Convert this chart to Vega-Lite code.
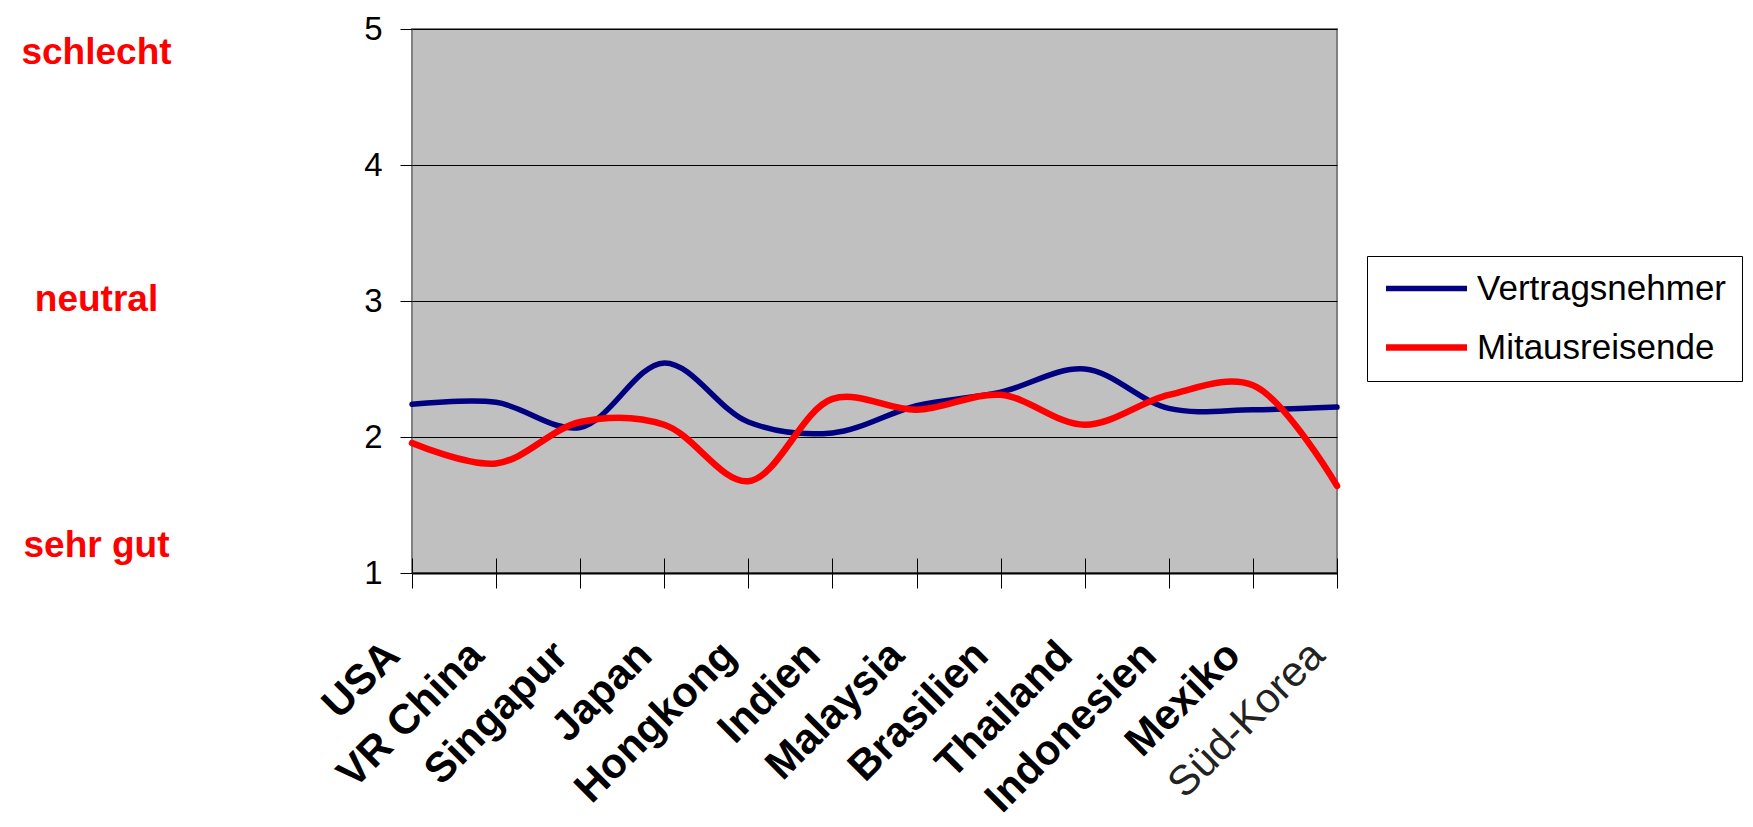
{
  "$schema": "https://vega.github.io/schema/vega-lite/v6.json",
  "width": 925,
  "height": 544,
  "autosize": "none",
  "padding": {"left": 412, "top": 29, "right": 416, "bottom": 254},
  "background": "white",
  "config": {
    "font": "Liberation Sans",
    "view": {"fill": "#C0C0C0", "stroke": "#808080", "strokeWidth": 2}
  },
  "datasets": {
    "series": [
      {"country": "USA", "group": "Vertragsnehmer", "score": 2.24},
      {"country": "USA", "group": "Mitausreisende", "score": 1.955},
      {"country": "VR China", "group": "Vertragsnehmer", "score": 2.255},
      {"country": "VR China", "group": "Mitausreisende", "score": 1.805},
      {"country": "Singapur", "group": "Vertragsnehmer", "score": 2.07},
      {"country": "Singapur", "group": "Mitausreisende", "score": 2.11},
      {"country": "Japan", "group": "Vertragsnehmer", "score": 2.545},
      {"country": "Japan", "group": "Mitausreisende", "score": 2.09},
      {"country": "Hongkong", "group": "Vertragsnehmer", "score": 2.11},
      {"country": "Hongkong", "group": "Mitausreisende", "score": 1.675},
      {"country": "Indien", "group": "Vertragsnehmer", "score": 2.03},
      {"country": "Indien", "group": "Mitausreisende", "score": 2.28},
      {"country": "Malaysia", "group": "Vertragsnehmer", "score": 2.23},
      {"country": "Malaysia", "group": "Mitausreisende", "score": 2.2},
      {"country": "Brasilien", "group": "Vertragsnehmer", "score": 2.33},
      {"country": "Brasilien", "group": "Mitausreisende", "score": 2.31},
      {"country": "Thailand", "group": "Vertragsnehmer", "score": 2.5},
      {"country": "Thailand", "group": "Mitausreisende", "score": 2.09},
      {"country": "Indonesien", "group": "Vertragsnehmer", "score": 2.21},
      {"country": "Indonesien", "group": "Mitausreisende", "score": 2.31},
      {"country": "Mexiko", "group": "Vertragsnehmer", "score": 2.2},
      {"country": "Mexiko", "group": "Mitausreisende", "score": 2.38},
      {"country": "Süd-Korea", "group": "Vertragsnehmer", "score": 2.22},
      {"country": "Süd-Korea", "group": "Mitausreisende", "score": 1.64}
    ],
    "bands": [
      {"label": "schlecht", "pos": 4.83},
      {"label": "neutral", "pos": 3.01},
      {"label": "sehr gut", "pos": 1.2}
    ]
  },
  "layer": [
    {
      "data": {"name": "series"},
      "mark": {"type": "line", "interpolate": "catmull-rom", "strokeCap": "round", "strokeJoin": "round"},
      "encoding": {
        "x": {
          "field": "country",
          "type": "ordinal",
          "sort": null,
          "scale": {"type": "point", "padding": 0},
          "axis": {
            "title": null,
            "grid": false,
            "labelAngle": -45,
            "labelAlign": "right",
            "labelBaseline": "top",
            "labelFontSize": 42,
            "labelFontWeight": {"condition": {"test": "datum.value === 'Süd-Korea'", "value": "normal"}, "value": "bold"},
            "labelColor": {"condition": {"test": "datum.value === 'Süd-Korea'", "value": "#222222"}, "value": "black"},
            "labelPadding": 46,
            "labelOffset": -34,
            "labelOverlap": false,
            "labelLimit": 600,
            "tickSize": 15,
            "tickColor": "black",
            "tickWidth": 1,
            "domainColor": "black",
            "domainWidth": 2
          }
        },
        "y": {
          "field": "score",
          "type": "quantitative",
          "scale": {"domain": [1, 5], "nice": false, "zero": false},
          "axis": {
            "title": null,
            "values": [1, 2, 3, 4, 5],
            "grid": true,
            "gridColor": "black",
            "gridWidth": 1,
            "domain": false,
            "tickSize": 12,
            "tickColor": "black",
            "labelFontSize": 33,
            "labelColor": "black",
            "labelPadding": 18,
            "labelFlush": false
          }
        },
        "color": {
          "field": "group",
          "type": "nominal",
          "scale": {"domain": ["Vertragsnehmer", "Mitausreisende"], "range": ["#000080", "#FF0000"]},
          "legend": {
            "title": null,
            "orient": "none",
            "legendX": 955,
            "legendY": 227,
            "symbolType": "M-3,0H3",
            "symbolSize": 729,
            "symbolOffset": 27,
            "symbolStrokeWidth": 5,
            "labelFontSize": 35,
            "labelColor": "black",
            "labelOffset": 33,
            "labelLimit": 600,
            "strokeColor": "black",
            "fillColor": "white",
            "padding": 15,
            "rowPadding": 23
          }
        },
        "strokeWidth": {
          "field": "group",
          "type": "nominal",
          "scale": {"domain": ["Vertragsnehmer", "Mitausreisende"], "range": [5.5, 6.5]},
          "legend": null
        }
      }
    },
    {
      "data": {"name": "series"},
      "mark": {"type": "point", "opacity": 0},
      "encoding": {
        "x": {
          "field": "country",
          "type": "ordinal",
          "sort": null,
          "scale": {"type": "point", "padding": 0},
          "axis": {
            "orient": "bottom",
            "title": null,
            "grid": false,
            "labels": false,
            "domain": false,
            "tickSize": -15,
            "tickColor": "black",
            "tickWidth": 1
          }
        }
      }
    },
    {
      "data": {"name": "bands"},
      "mark": {"type": "point", "opacity": 0},
      "encoding": {
        "y": {
          "field": "pos",
          "type": "quantitative",
          "scale": {"domain": [1, 5], "nice": false, "zero": false},
          "axis": {
            "orient": "left",
            "title": null,
            "values": [1.2, 3.01, 4.83],
            "labelExpr": "datum.value > 4 ? 'schlecht' : (datum.value > 2 ? 'neutral' : 'sehr gut')",
            "domain": false,
            "ticks": false,
            "grid": false,
            "labelAlign": "center",
            "labelBaseline": "middle",
            "labelPadding": 316,
            "labelColor": "#FF0000",
            "labelFontWeight": "bold",
            "labelFontSize": 37,
            "labelFlush": false,
            "labelOverlap": false
          }
        }
      }
    }
  ],
  "resolve": {"axis": {"y": "independent", "x": "independent"}}
}
